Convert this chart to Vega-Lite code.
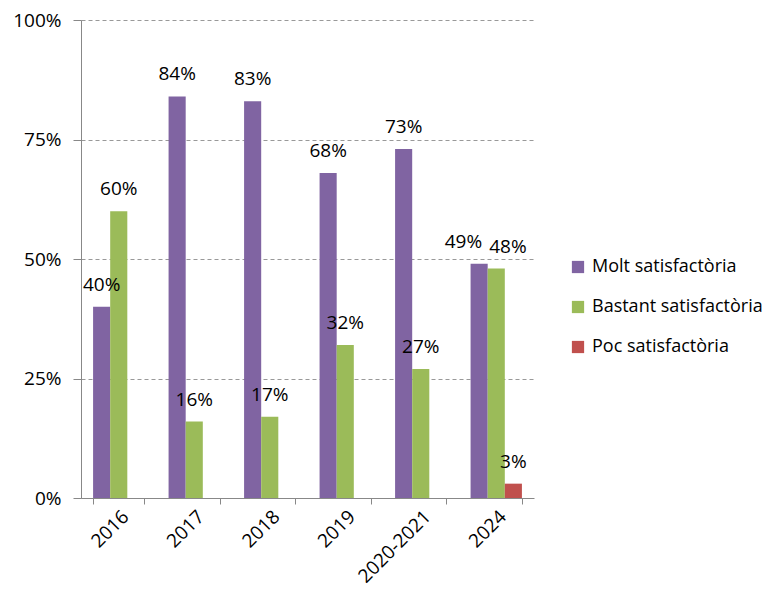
{
  "$schema": "https://vega.github.io/schema/vega-lite/v6.json",
  "width": 453,
  "height": 478,
  "autosize": {"type": "none"},
  "padding": {"left": 81, "top": 20, "right": 238, "bottom": 99},
  "background": "white",
  "config": {
    "view": {"stroke": null},
    "font": "Open Sans",
    "text": {"font": "Open Sans"}
  },
  "data": {
    "values": [
      {"year": "2016", "serie": "Molt satisfactòria", "value": 0.40},
      {"year": "2016", "serie": "Bastant satisfactòria", "value": 0.60},
      {"year": "2017", "serie": "Molt satisfactòria", "value": 0.84},
      {"year": "2017", "serie": "Bastant satisfactòria", "value": 0.16},
      {"year": "2018", "serie": "Molt satisfactòria", "value": 0.83},
      {"year": "2018", "serie": "Bastant satisfactòria", "value": 0.17},
      {"year": "2019", "serie": "Molt satisfactòria", "value": 0.68},
      {"year": "2019", "serie": "Bastant satisfactòria", "value": 0.32},
      {"year": "2020-2021", "serie": "Molt satisfactòria", "value": 0.73},
      {"year": "2020-2021", "serie": "Bastant satisfactòria", "value": 0.27},
      {"year": "2024", "serie": "Molt satisfactòria", "value": 0.49},
      {"year": "2024", "serie": "Bastant satisfactòria", "value": 0.48},
      {"year": "2024", "serie": "Poc satisfactòria", "value": 0.03}
    ]
  },
  "encoding": {
    "x": {
      "field": "year", "type": "nominal", "sort": null,
      "scale": {"paddingInner": 0.32, "paddingOuter": 0.16},
      "axis": {
        "title": null, "labelAngle": -45, "labelAlign": "right", "labelBaseline": "top",
        "labelFontSize": 19, "labelColor": "#000000", "labelPadding": 3,
        "domainColor": "#888888", "tickColor": "#888888", "tickBand": "extent", "tickSize": 6
      }
    },
    "xOffset": {
      "field": "serie", "type": "nominal",
      "sort": ["Molt satisfactòria", "Bastant satisfactòria", "Poc satisfactòria"],
      "scale": {"domain": ["Molt satisfactòria", "Bastant satisfactòria", "Poc satisfactòria"], "paddingInner": 0, "paddingOuter": 0}
    },
    "y": {
      "field": "value", "type": "quantitative",
      "scale": {"domain": [0, 1], "nice": false},
      "axis": {
        "title": null, "format": ".0%", "values": [0, 0.25, 0.5, 0.75, 1],
        "labelFontSize": 19, "labelColor": "#000000", "labelPadding": 12,
        "domainColor": "#888888", "tickColor": "#888888", "tickSize": 8,
        "grid": true, "gridColor": "#999999", "gridDash": [4, 3], "gridWidth": 1
      }
    }
  },
  "layer": [
    {
      "mark": {"type": "bar"},
      "encoding": {
        "color": {
          "field": "serie", "type": "nominal",
          "scale": {
            "domain": ["Molt satisfactòria", "Bastant satisfactòria", "Poc satisfactòria"],
            "range": ["#8064A2", "#9BBB59", "#C0504D"]
          },
          "legend": {
            "title": null, "orient": "none", "legendX": 488, "legendY": 238,
            "symbolType": "square", "symbolSize": 150, "symbolStrokeWidth": 0,
            "labelFontSize": 18, "labelColor": "#000000", "labelLimit": 300,
            "rowPadding": 22, "labelOffset": 5
          }
        }
      }
    },
    {
      "transform": [{"filter": "datum.year != '2024' || datum.serie == 'Poc satisfactòria'"}],
      "mark": {"type": "text", "baseline": "middle", "align": "center", "dy": -22, "fontSize": 19, "color": "#000000"},
      "encoding": {
        "text": {"field": "value", "type": "quantitative", "format": ".0%"}
      }
    },
    {
      "transform": [{"filter": "datum.year == '2024' && datum.serie == 'Molt satisfactòria'"}],
      "mark": {"type": "text", "baseline": "middle", "align": "right", "dx": 3, "dy": -22, "fontSize": 19, "color": "#000000"},
      "encoding": {
        "text": {"field": "value", "type": "quantitative", "format": ".0%"}
      }
    },
    {
      "transform": [{"filter": "datum.year == '2024' && datum.serie == 'Bastant satisfactòria'"}],
      "mark": {"type": "text", "baseline": "middle", "align": "left", "dx": -7, "dy": -22, "fontSize": 19, "color": "#000000"},
      "encoding": {
        "text": {"field": "value", "type": "quantitative", "format": ".0%"}
      }
    }
  ]
}
